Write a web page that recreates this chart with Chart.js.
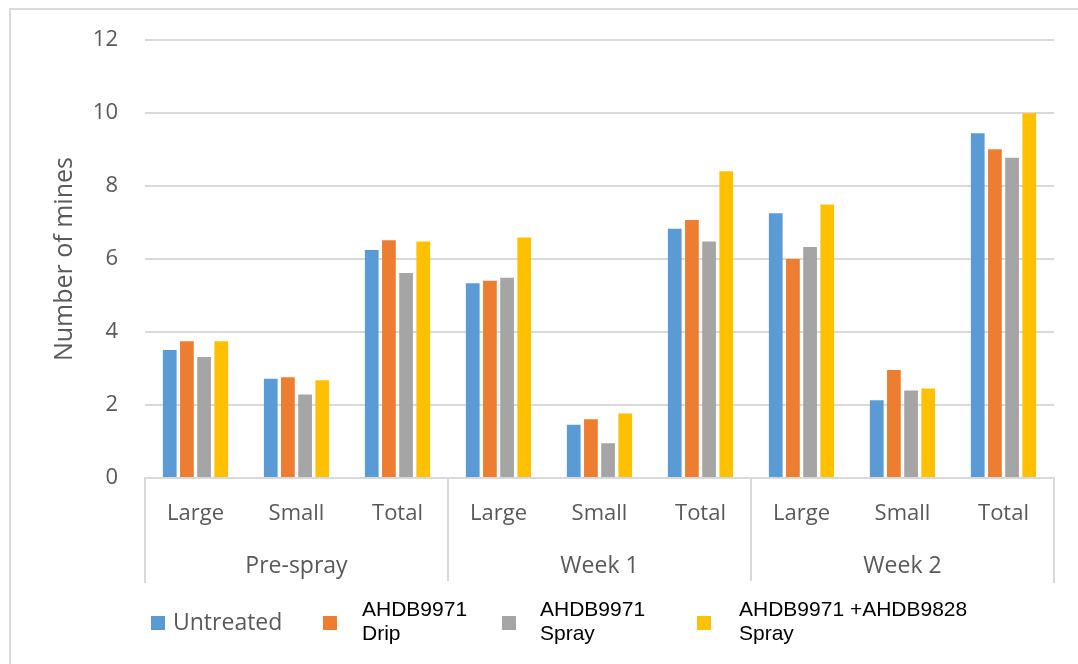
<!DOCTYPE html>
<html>
<head>
<meta charset="utf-8">
<script src="https://cdn.jsdelivr.net/npm/chart.js@4/dist/chart.umd.min.js"></script>
<style>
  html, body { margin: 0; padding: 0; background: #ffffff; }
  #wrap { width: 1078px; height: 664px; position: relative; }
</style>
</head>
<body>
<div id="wrap"><canvas id="chart" width="1078" height="664"></canvas></div>
<script>
// Sub-categories along the x axis and the period each block of three belongs to
const categories = ['Large', 'Small', 'Total', 'Large', 'Small', 'Total', 'Large', 'Small', 'Total'];
const groups = ['Pre-spray', 'Week 1', 'Week 2'];

// Mean number of mines per treatment
const untreated = [3.51, 2.72, 6.25, 5.34, 1.46, 6.83, 7.26, 2.13, 9.45];
const drip      = [3.75, 2.76, 6.52, 5.41, 1.61, 7.07, 6.00, 2.96, 9.01];
const spray     = [3.32, 2.29, 5.62, 5.49, 0.95, 6.48, 6.33, 2.40, 8.78];
const combined  = [3.75, 2.68, 6.48, 6.59, 1.77, 8.41, 7.50, 2.45, 10.0];

const seriesLabels = ['Untreated', ['AHDB9971', 'Drip'], ['AHDB9971', 'Spray'], ['AHDB9971 +AHDB9828', 'Spray']];
const seriesColors = ['#5B9BD5', '#ED7D31', '#A5A5A5', '#FFC000'];

const yTicks = [0, 2, 4, 6, 8, 10, 12];

const axisText = '#595959';
const lineGrey = '#D9D9D9';
const uiFont = '"Open Sans", "DejaVu Sans", sans-serif';

// Frame, grouped x-axis boxes and group names, plus the legend
const decorations = {
  id: 'decorations',
  afterDraw(chart) {
    const ctx = chart.ctx;
    const x = chart.scales.x;
    const area = chart.chartArea;
    const perGroup = categories.length / groups.length;
    const step = (x.right - x.left) / categories.length;

    ctx.save();
    // outer frame (left and top edges)
    ctx.strokeStyle = lineGrey;
    ctx.lineWidth = 2;
    ctx.beginPath();
    ctx.moveTo(10, 664);
    ctx.lineTo(10, 9);
    ctx.lineTo(1078, 9);
    ctx.stroke();

    // vertical dividers under the axis
    for (let g = 0; g <= groups.length; g++) {
      const px = Math.round(x.left + g * perGroup * step);
      const ends = (g === 0 || g === groups.length) ? 105 : 103;
      ctx.beginPath();
      ctx.moveTo(px, area.bottom);
      ctx.lineTo(px, area.bottom + ends);
      ctx.stroke();
    }

    // group names
    ctx.fillStyle = axisText;
    ctx.font = '23px ' + uiFont;
    ctx.textAlign = 'center';
    ctx.textBaseline = 'middle';
    groups.forEach((name, g) => {
      const cx = x.left + (g + 0.5) * perGroup * step;
      ctx.fillText(name, cx, area.bottom + 88);
    });

    // legend
    const boxX = [151, 323, 502, 697];
    const textX = [173, 362, 540, 739];
    ctx.textAlign = 'left';
    ctx.textBaseline = 'alphabetic';
    seriesLabels.forEach((label, i) => {
      ctx.fillStyle = seriesColors[i];
      ctx.fillRect(boxX[i], 616, 14, 14);
      if (Array.isArray(label)) {
        ctx.fillStyle = '#000000';
        ctx.font = '21px "Liberation Sans", Arial, sans-serif';
        label.forEach((line, k) => ctx.fillText(line, textX[i], 616 + k * 24));
      } else {
        ctx.fillStyle = axisText;
        ctx.font = '23px ' + uiFont;
        ctx.fillText(label, textX[i], 630);
      }
    });
    ctx.restore();
  }
};

new Chart(document.getElementById('chart'), {
  type: 'bar',
  data: {
    labels: categories,
    datasets: [
      { label: 'Untreated', data: untreated, backgroundColor: seriesColors[0] },
      { label: 'AHDB9971 Drip', data: drip, backgroundColor: seriesColors[1] },
      { label: 'AHDB9971 Spray', data: spray, backgroundColor: seriesColors[2] },
      { label: 'AHDB9971 +AHDB9828 Spray', data: combined, backgroundColor: seriesColors[3] }
    ]
  },
  options: {
    responsive: false,
    animation: false,
    devicePixelRatio: 1,
    layout: { padding: { top: 40, right: 24, bottom: 0, left: 0 } },
    datasets: { bar: { categoryPercentage: 0.68, barPercentage: 0.8, borderWidth: 0 } },
    plugins: {
      legend: { display: false },
      tooltip: { enabled: false }
    },
    scales: {
      x: {
        grid: { display: false, drawTicks: false },
        border: { display: true, color: lineGrey, width: 2 },
        ticks: {
          color: axisText,
          font: { family: uiFont, size: 22 },
          padding: 23,
          maxRotation: 0,
          autoSkip: false
        },
        afterFit(scale) { scale.height = 664 - 478; }
      },
      y: {
        min: 0,
        max: 12,
        afterBuildTicks(scale) { scale.ticks = yTicks.map(v => ({ value: v })); },
        grid: { color: lineGrey, lineWidth: 2, drawTicks: false },
        border: { display: false },
        ticks: {
          color: axisText,
          font: { family: uiFont, size: 22 },
          padding: 27
        },
        title: {
          display: true,
          text: 'Number of mines',
          color: axisText,
          font: { family: uiFont, size: 25 },
          padding: { top: 50, bottom: 0 }
        },
        afterFit(scale) { scale.width = 145; }
      }
    }
  },
  plugins: [decorations]
});
</script>
</body>
</html>
